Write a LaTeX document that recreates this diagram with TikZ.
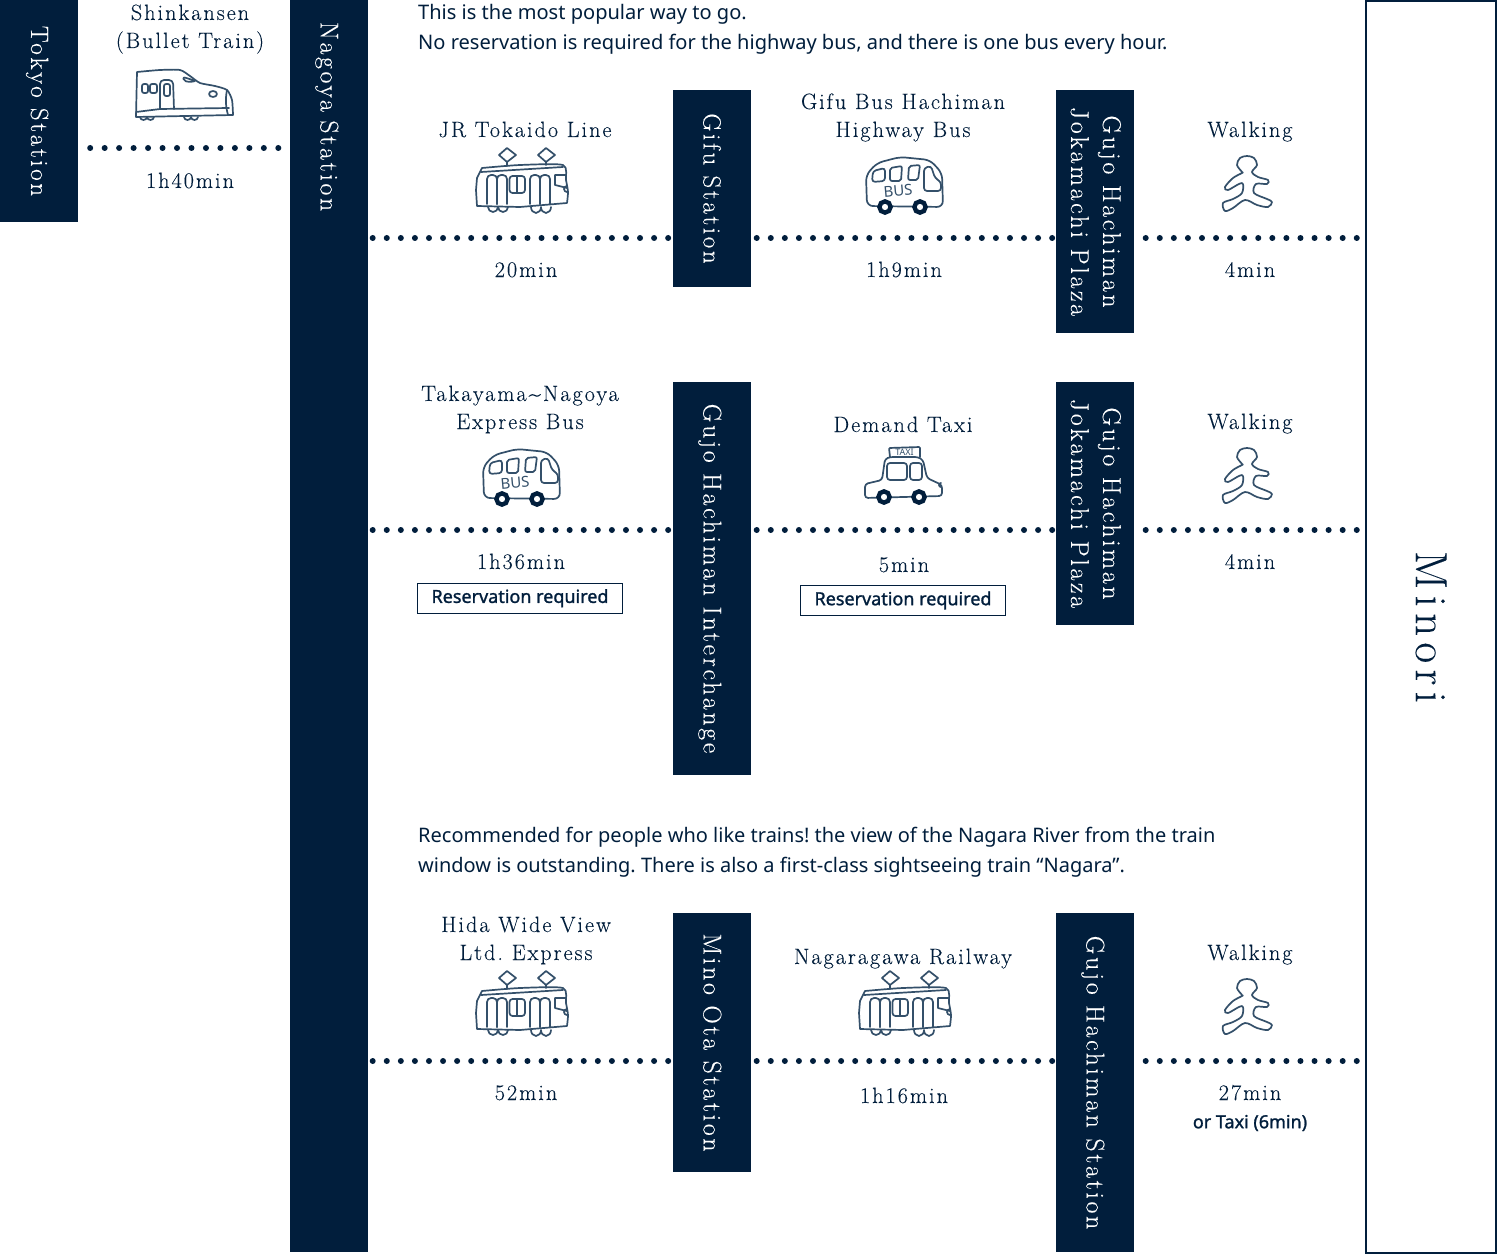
\documentclass[tikz,border=0pt]{standalone}
\usepackage{fontspec}
\setmainfont{Noto Sans}
\newfontfamily\disp[LetterSpace=9,FakeBold=0.12]{Latin Modern Roman}
\newfontfamily\dispm[LetterSpace=10.5,FakeBold=0.12]{Latin Modern Roman}
\newfontfamily\dispw[LetterSpace=14,FakeBold=0.12]{Latin Modern Roman}
\newfontfamily\notef{Noto Sans}
\newfontfamily\resvf[FakeBold=1.3]{Noto Sans}
\definecolor{navy}{HTML}{011E3C}
\definecolor{inkc}{HTML}{34506A}
\tikzset{
  stn/.style={fill=navy,text=white,rotate=-90,inner sep=0pt,minimum height=78pt,align=center,
    font=\dispm\fontsize{25.75}{32}\selectfont\frenchspacing,text height=22pt,text depth=6pt},
  stnshort/.style={stn,font=\dispm\fontsize{25}{32}\selectfont\frenchspacing},
  stntwo/.style={stn,text height=53pt},
  lab/.style={text=navy,inner sep=0pt,align=center,font=\disp\fontsize{22.2}{28}\selectfont\frenchspacing,text height=14pt,text depth=6pt},
  labtwo/.style={lab,text height=42pt},
  para/.style={text=navy,inner sep=0pt,align=left,anchor=west,font=\notef\fontsize{20.05}{30}\selectfont\frenchspacing,text height=45pt,text depth=5pt},
  resv/.style={draw=navy,line width=1.2pt,text=navy,fill=white,inner sep=0pt,minimum width=205pt,minimum height=30pt,font=\resvf\fontsize{18}{22}\selectfont},
  dots/.style={navy,line width=6pt,line cap=round,dash pattern=on 0pt off 14.07pt},
  dotswide/.style={dots,dash pattern=on 0pt off 14.47pt},
  ink/.style={draw=inkc,line width=1.7pt,line join=round,line cap=round},
  wheel/.style={draw=navy,line width=4.4pt,fill=white},
  bullet/.pic={
    \draw[ink] plot[smooth,tension=.4] coordinates{(137,72)(160,70)(180,70)(190,76)(200,83)(215,86)(227,90)(232,100)(233,115)}
      -- (136,117) -- cycle;
    \draw[ink] (136,112) -- (160,109) -- (229,108);
    \draw[ink] (227,90) .. controls (225,100) and (226,108) .. (228,115);
    \draw[ink,rounded corners=2] (142,84) rectangle (148,93);
    \draw[ink,rounded corners=2] (150,84) rectangle (157,93);
    \draw[ink,rounded corners=4] (160,109) -- (160,80) -- (173,80) -- (174,109);
    \draw[ink,rounded corners=2] (164,84) rectangle (170,96);
    \draw[ink,rounded corners=2] (183,77) -- (196,81) -- (190,82) -- (184,81) -- cycle;
    \draw[ink] (213,94) ellipse [x radius=4,y radius=3];
    \draw[ink] (140,117) arc[start angle=180,end angle=360,x radius=3.5,y radius=-3] arc[start angle=180,end angle=360,x radius=3.5,y radius=-3];
    \draw[ink] (184,117) arc[start angle=180,end angle=360,x radius=3.5,y radius=-3] arc[start angle=180,end angle=360,x radius=3.5,y radius=-3];
  },
  tram/.pic={
    \draw[ink] (507,162) -- (499,155) -- (507,148) -- (516,155) -- cycle;
    \draw[ink] (546,162) -- (538,155) -- (546,148) -- (555,155) -- cycle;
    \draw[ink] (507,162) -- (507,166);
    \draw[ink] (546,162) -- (546,165);
    \draw[ink] plot[smooth,tension=.4] coordinates{(482,168)(520,165)(563,165)(566,180)(568,192)(567,203)}
      -- (520,207) -- (477,206) -- (476,190) -- (477,178) -- cycle;
    \draw[ink] (481,172) -- (563,167);
    \draw[ink,rounded corners=4] (487,204) -- (487,175) -- (497,175) -- (497,204);
    \draw[ink,rounded corners=4] (497,204) -- (497,175) -- (507,175) -- (507,204);
    \draw[ink,rounded corners=4] (530,204) -- (530,175) -- (540,175) -- (540,204);
    \draw[ink,rounded corners=4] (540,204) -- (540,175) -- (550,175) -- (550,204);
    \draw[ink,rounded corners=3] (509.5,176) rectangle (525,193);
    \draw[ink] (517,177) -- (517,192);
    \draw[ink] (566,175) -- (555,175) -- (555,185) -- (567,188);
    \draw[ink] (567,192) arc[start angle=90,end angle=270,radius=3];
    \draw[ink] (488,207) arc[start angle=180,end angle=360,x radius=5,y radius=-5] arc[start angle=180,end angle=360,x radius=5,y radius=-5];
    \draw[ink] (531,207) arc[start angle=180,end angle=360,x radius=5,y radius=-6] arc[start angle=180,end angle=360,x radius=5,y radius=-6];
  },
  busicon/.pic={
    \draw[ink,rounded corners=6] (867,206) -- (866,175) -- (877,163) -- (900,157) -- (930,160) -- (942,173) -- (943,207) -- cycle;
    \draw[ink,rounded corners=3] (872,182) -- (873,171) -- (885,168) -- (885,181) -- cycle;
    \draw[ink,rounded corners=2] (890,168) -- (902,166) -- (901,181) -- (890,181) -- cycle;
    \draw[ink,rounded corners=2] (909,166) -- (920,165) -- (918,180) -- (908,180) -- cycle;
    \draw[ink,rounded corners=3] (924,191) -- (924,168) -- (931,166) -- (935,178) -- (941,182) -- (941,191) -- cycle;
    \node[text=inkc,inner sep=0pt,rotate=5,font=\notef\fontsize{15}{15}\selectfont] (bustext) at (898,191) {BUS};
    \draw[wheel] (885,207) circle[radius=5.6];
    \draw[wheel] (920,207) circle[radius=5.6];
  },
  taxiicon/.pic={
    \draw[ink,rounded corners=3] (865,498) -- (865,484) -- (882,480) -- (885,459) -- (890,457) -- (918,457) -- (923,460) -- (927,478) -- (942,485) -- (942,496) -- cycle;
    \draw[ink,rounded corners=1] (890,457) -- (889,448) -- (920,447) -- (920,457);
    \node[text=inkc,inner sep=0pt,font=\notef\fontsize{9}{9}\selectfont] (taxitext) at (904.5,452.5) {TAXI};
    \draw[ink,rounded corners=3] (887,463) rectangle (907,480);
    \draw[ink,rounded corners=3] (910,463) rectangle (922,480);
    \draw[ink] (941,487) arc[start angle=90,end angle=270,radius=2];
    \draw[wheel] (884,497) circle[radius=5.6];
    \draw[wheel] (919,497) circle[radius=5.6];
  },
  walker/.pic={
    \draw[ink] plot[smooth cycle,tension=.55] coordinates{(1242,172)(1237,165)(1240,158)(1247,156)(1254,158)(1257,165)(1252,172)(1258,177)(1268,180)(1267,184)(1256,184)(1254,193)(1267,199)(1272,202)(1268,207)(1257,205)(1245,200)(1233,208)(1225,211)(1223,203)(1233,199)(1242,193)(1242,183)(1228,190)(1225,187)(1233,178)(1242,173)};
  }
}
\begin{document}
\begin{tikzpicture}[x=1pt,y=-1pt]
\useasboundingbox (0,0) rectangle (1500,1260);
\fill[white] (0,0) rectangle (1500,1260);
% stations
\node[stnshort,minimum width=222pt] (tokyo) at (39,111) {Tokyo Station};
\node[stn,minimum width=1252pt,text width=1208pt,align=left] (nagoya) at (328.5,626) {Nagoya Station};
\node[stnshort,minimum width=197pt] (gifu) at (711.5,188.5) {Gifu Station};
\node[stntwo,minimum width=243pt] (plazaa) at (1094.5,211.5) {Gujo Hachiman\\Jokamachi Plaza};
\node[stn,minimum width=393pt] (inter) at (711.5,578.5) {Gujo Hachiman Interchange};
\node[stntwo,minimum width=243pt] (plazab) at (1094.5,503.5) {Gujo Hachiman\\Jokamachi Plaza};
\node[stn,minimum width=259pt] (mino) at (711.5,1042.5) {Mino Ota Station};
\node[stn,minimum width=339pt] (gujost) at (1094.5,1082.5) {Gujo Hachiman Station};
\node[draw=navy,line width=2pt,fill=white,text=navy,rotate=-90,inner sep=0pt,minimum width=1251pt,minimum height=130pt,font=\dispw\fontsize{45}{48}\selectfont] (minori) at (1431,627) {Minori};
% row references
\coordinate (ra) at (0,148);
\coordinate (rb) at (0,238);
\coordinate (rc) at (0,530);
\coordinate (rd) at (0,1061);
% connectors
\draw[dotswide] ([xshift=12]tokyo.north |- ra) -- ([xshift=-6]nagoya.south |- ra);
\draw[dots] ([xshift=5]nagoya.north |- rb) -- ([xshift=-2]gifu.south |- rb);
\draw[dots] ([xshift=6]gifu.north |- rb) -- ([xshift=-2]plazaa.south |- rb);
\draw[dots] ([xshift=12]plazaa.north |- rb) -- ([xshift=-7]minori.south |- rb);
\draw[dots] ([xshift=5]nagoya.north |- rc) -- ([xshift=-2]inter.south |- rc);
\draw[dots] ([xshift=6]inter.north |- rc) -- ([xshift=-2]plazab.south |- rc);
\draw[dots] ([xshift=12]plazab.north |- rc) -- ([xshift=-7]minori.south |- rc);
\draw[dots] ([xshift=5]nagoya.north |- rd) -- ([xshift=-2]mino.south |- rd);
\draw[dots] ([xshift=6]mino.north |- rd) -- ([xshift=-2]gujost.south |- rd);
\draw[dots] ([xshift=12]gujost.north |- rd) -- ([xshift=-7]minori.south |- rd);
% paragraphs
\node[para] (parab) at (418,30) {This is the most popular way to go.\\No reservation is required for the highway bus, and there is one bus every hour.};
\node[para,font=\notef\fontsize{20}{30}\selectfont\frenchspacing] (parac) at (418,852) {Recommended for people who like trains! the view of the Nagara River from the train\\window is outstanding. There is also a first-class sightseeing train “Nagara”.};
% labels
\node[labtwo] (shin) at (190,30) {Shinkansen\\(Bullet Train)};
\node[lab] (ta) at (190,184) {1h40min};
\node[lab] (jr) at (525,133) {JR Tokaido Line};
\node[lab] (tb) at (526,273) {20min};
\node[labtwo] (gb) at (903,119) {Gifu Bus Hachiman\\Highway Bus};
\node[lab] (tc) at (904,273) {1h9min};
\node[lab] (wa) at (1250,133) {Walking};
\node[lab] (td) at (1250,273) {4min};
\node[labtwo] (tk) at (520,411) {Takayama\textasciitilde Nagoya\\Express Bus};
\node[lab] (te) at (521,565) {1h36min};
\node[resv] (rva) at (520,598.2) {Reservation required};
\node[lab] (dt) at (903,428) {Demand Taxi};
\node[lab] (tf) at (904,568) {5min};
\node[resv] (rvb) at (903,600.5) {Reservation required};
\node[lab] (wb) at (1250,425) {Walking};
\node[lab] (tg) at (1250,565) {4min};
\node[labtwo] (hd) at (526,942) {Hida Wide View\\Ltd. Express};
\node[lab] (th) at (526,1096) {52min};
\node[lab] (ng) at (903,960) {Nagaragawa Railway};
\node[lab] (ti) at (904,1099) {1h16min};
\node[lab] (wc) at (1250,956) {Walking};
\node[lab] (tj) at (1250,1096) {27min};
\node[text=navy,inner sep=0pt,font=\resvf\fontsize{18}{22}\selectfont] (ot) at (1250,1123) {or Taxi (6min)};
% icons
\pic at (0,0) {bullet};
\pic at (0,0) {tram};
\pic at (0,823) {tram};
\pic at (383,823) {tram};
\pic at (0,0) {busicon};
\pic at (-383,292) {busicon};
\pic at (0,0) {taxiicon};
\pic at (0,0) {walker};
\pic at (0,292) {walker};
\pic at (0,823) {walker};
\end{tikzpicture}
\end{document}
